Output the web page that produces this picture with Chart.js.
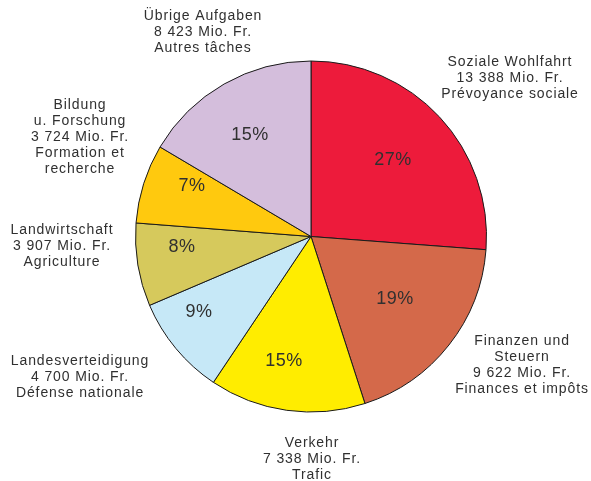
<!DOCTYPE html>
<html>
<head>
<meta charset="utf-8">
<script src="https://cdn.jsdelivr.net/npm/chart.js@4"></script>
<style>
    body { margin: 0; background: #fff; }
    #wrap { width: 591px; height: 481px; }
</style>
</head>
<body>
<div id="wrap"><canvas id="pieChart" width="591" height="481"></canvas></div>
<script>
// Data (Mio. Fr.), clockwise from the top
const categories = ['Soziale Wohlfahrt', 'Finanzen und Steuern', 'Verkehr', 'Landesverteidigung',
    'Landwirtschaft', 'Bildung u. Forschung', 'Übrige Aufgaben'];
const amounts = [13388, 9622, 7338, 4700, 3907, 3724, 8423];
const percentLabels = ['27%', '19%', '15%', '9%', '8%', '7%', '15%'];
const outerLabels = [
    ['Soziale Wohlfahrt', '13 388 Mio. Fr.', 'Prévoyance sociale'],
    ['Finanzen und', 'Steuern', '9 622 Mio. Fr.', 'Finances et impôts'],
    ['Verkehr', '7 338 Mio. Fr.', 'Trafic'],
    ['Landesverteidigung', '4 700 Mio. Fr.', 'Défense nationale'],
    ['Landwirtschaft', '3 907 Mio. Fr.', 'Agriculture'],
    ['Bildung', 'u. Forschung', '3 724 Mio. Fr.', 'Formation et', 'recherche'],
    ['Übrige Aufgaben', '8 423 Mio. Fr.', 'Autres tâches']
];
const colors = ['#ED1B3B', '#D4694A', '#FFED00', '#C6E8F7', '#D6C95C', '#FFC90E', '#D4BEDC'];

// Where the text blocks sit (centre x, first line y)
const outerPos = [[510, 62], [522, 341], [312, 443], [80, 361], [62, 230], [80, 105], [203, 16]];
const pctPos = [[393, 160], [395, 299], [284, 361], [199, 312], [182, 247], [192, 186], [250, 135]];

const textPlugin = {
    id: 'textPlugin',
    afterDraw(chart) {
        const ctx = chart.ctx;
        ctx.save();
        ctx.fillStyle = '#303030';
        ctx.textAlign = 'center';
        ctx.textBaseline = 'middle';

        ctx.font = '18px "Liberation Sans", Arial, sans-serif';
        ctx.letterSpacing = '0.5px';
        percentLabels.forEach((t, i) => {
            ctx.fillText(t, pctPos[i][0], pctPos[i][1]);
        });

        ctx.font = '14px "Liberation Sans", Arial, sans-serif';
        ctx.letterSpacing = '0.9px';
        outerLabels.forEach((lines, i) => {
            lines.forEach((line, j) => {
                ctx.fillText(line, outerPos[i][0], outerPos[i][1] + j * 16);
            });
        });
        ctx.restore();
    }
};

new Chart(document.getElementById('pieChart').getContext('2d'), {
    type: 'pie',
    data: {
        labels: categories,
        datasets: [{
            data: amounts,
            backgroundColor: colors,
            borderColor: '#1a1a1a',
            borderWidth: 1
        }]
    },
    options: {
        responsive: false,
        animation: false,
        layout: {
            padding: { left: 135, right: 104, top: 60, bottom: 68 }
        },
        plugins: {
            legend: { display: false },
            tooltip: { enabled: false }
        }
    },
    plugins: [textPlugin]
});
</script>
</body>
</html>
